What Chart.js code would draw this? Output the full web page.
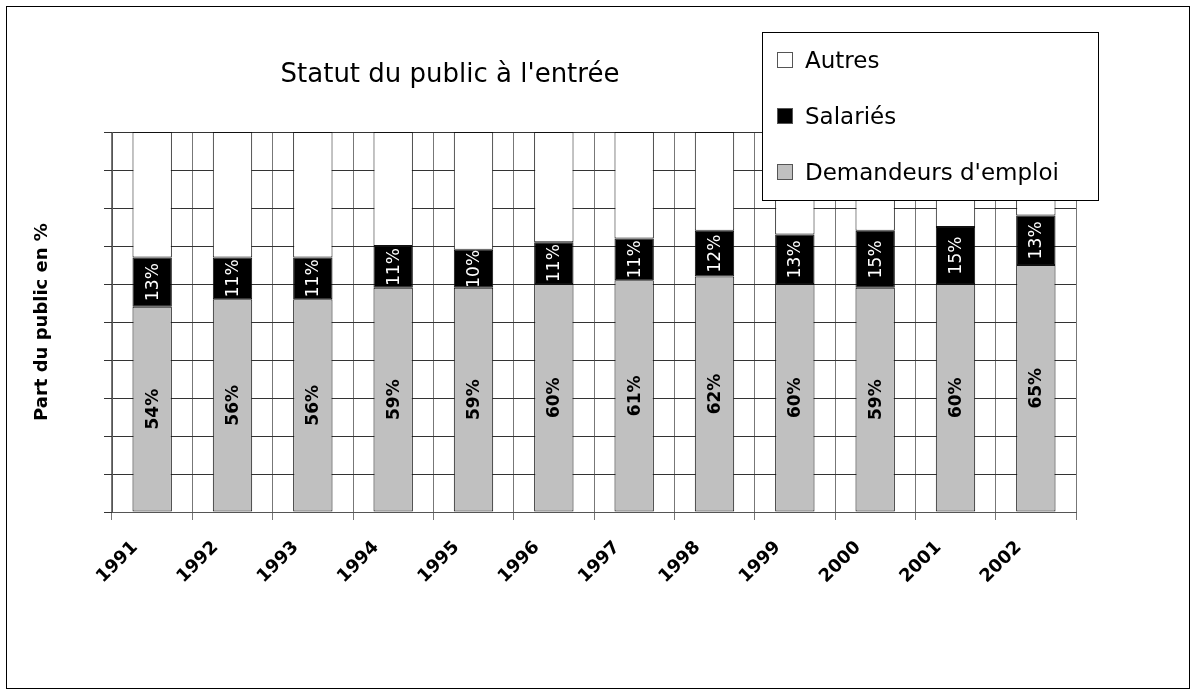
<!DOCTYPE html>
<html>
<head>
<meta charset="utf-8">
<script src="https://cdn.jsdelivr.net/npm/chart.js@4"></script>
<style>
    body { margin: 0; background: #fff; }
    #wrap { position: relative; width: 1196px; height: 695px; }
    #frame { position: absolute; left: 6px; top: 6px; width: 1182px; height: 681px; border: 1px solid #000; pointer-events: none; }
    #title { position: absolute; left: 150px; width: 600px; top: 58px; text-align: center; font: 26px 'Comic Sans MS', 'DejaVu Sans', sans-serif; color: #000; }
    #legend { position: absolute; left: 762px; top: 32px; width: 335px; height: 167px; border: 1px solid #000; background: #fff; font: 23px 'Comic Sans MS', 'DejaVu Sans', sans-serif; }
    .item { position: absolute; left: 14px; display: flex; align-items: center; }
    .box { width: 14px; height: 14px; border: 1px solid #555; margin-right: 12px; }
</style>
</head>
<body>
<div id="wrap">
    <canvas id="chart" width="1196" height="695"></canvas>
    <div id="frame"></div>
    <div id="title">Statut du public à l'entrée</div>
    <div id="legend"></div>
</div>
<script>
const annees = ['1991', '1992', '1993', '1994', '1995', '1996', '1997', '1998', '1999', '2000', '2001', '2002'];
const demandeurs = [54, 56, 56, 59, 59, 60, 61, 62, 60, 59, 60, 65];
const salaries = [13, 11, 11, 11, 10, 11, 11, 12, 13, 15, 15, 13];
const autres = [33, 33, 33, 30, 31, 29, 28, 26, 27, 26, 25, 22];
const yTicks = [0, 10, 20, 30, 40, 50, 60, 70, 80, 90, 100];

const ctx = document.getElementById('chart');

// etiquettes verticales dans les barres
const barLabels = {
    id: 'barLabels',
    afterDatasetsDraw(chart) {
        const c = chart.ctx;
        chart.data.datasets.forEach((ds, i) => {
            if (!ds.labelColor) return;
            chart.getDatasetMeta(i).data.forEach((bar, j) => {
                const p = bar.getProps(['x', 'y', 'base'], true);
                c.save();
                c.translate(p.x, (p.y + p.base) / 2);
                c.rotate(-Math.PI / 2);
                c.font = ds.labelFont;
                c.fillStyle = ds.labelColor;
                c.textAlign = 'center';
                c.textBaseline = 'middle';
                c.fillText(ds.data[j] + '%', 0, 1);
                c.restore();
            });
        });
    }
};

const datasets = [
    {
        label: 'Demandeurs d\'emploi',
        data: demandeurs,
        backgroundColor: '#c0c0c0',
        labelColor: '#000',
        labelFont: 'bold 17px "DejaVu Sans", sans-serif'
    },
    {
        label: 'Salariés',
        data: salaries,
        backgroundColor: '#000',
        labelColor: '#fff',
        labelFont: '17px "DejaVu Sans", sans-serif'
    },
    {
        label: 'Autres',
        data: autres,
        backgroundColor: '#fff'
    }
];

datasets.forEach(ds => {
    ds.borderColor = '#111';
    ds.borderWidth = 1;
    ds.borderSkipped = false;
    ds.barPercentage = 0.49;
    ds.categoryPercentage = 1;
});

new Chart(ctx, {
    type: 'bar',
    data: { labels: annees, datasets: datasets },
    options: {
        responsive: false,
        animation: false,
        layout: { padding: { left: 0, top: 132, right: 120, bottom: 0 } },
        plugins: {
            legend: { display: false },
            title: { display: false },
            tooltip: { enabled: false }
        },
        scales: {
            x: {
                stacked: true,
                grid: { offset: true, color: '#777', tickLength: 8, drawOnChartArea: true },
                border: { color: '#555' },
                ticks: {
                    color: '#000',
                    font: { size: 18, weight: 'bold', family: 'DejaVu Sans' },
                    maxRotation: 45,
                    minRotation: 45,
                    padding: 17,
                    labelOffset: -17
                },
                afterFit(scale) { scale.height = 183; }
            },
            y: {
                stacked: true,
                min: 0,
                max: 100,
                afterBuildTicks(scale) { scale.ticks = yTicks.map(v => ({ value: v })); },
                grid: { color: '#333', tickLength: 8 },
                border: { color: '#555' },
                ticks: { callback: () => '' },
                title: {
                    display: true,
                    text: 'Part du public en %',
                    color: '#000',
                    font: { size: 18, weight: 'bold', family: 'DejaVu Sans' },
                    padding: { top: 32, bottom: 0 }
                },
                afterFit(scale) { scale.width = 112; }
            }
        }
    },
    plugins: [barLabels]
});

// legende HTML, par dessus la zone du graphique
const legend = document.getElementById('legend');
const ordre = [datasets[2], datasets[1], datasets[0]];
ordre.forEach((ds, i) => {
    const item = document.createElement('div');
    item.className = 'item';
    item.style.top = (14 + i * 56) + 'px';
    const box = document.createElement('div');
    box.className = 'box';
    box.style.background = ds.backgroundColor;
    const txt = document.createElement('span');
    txt.textContent = ds.label;
    item.appendChild(box);
    item.appendChild(txt);
    legend.appendChild(item);
});
</script>
</body>
</html>
